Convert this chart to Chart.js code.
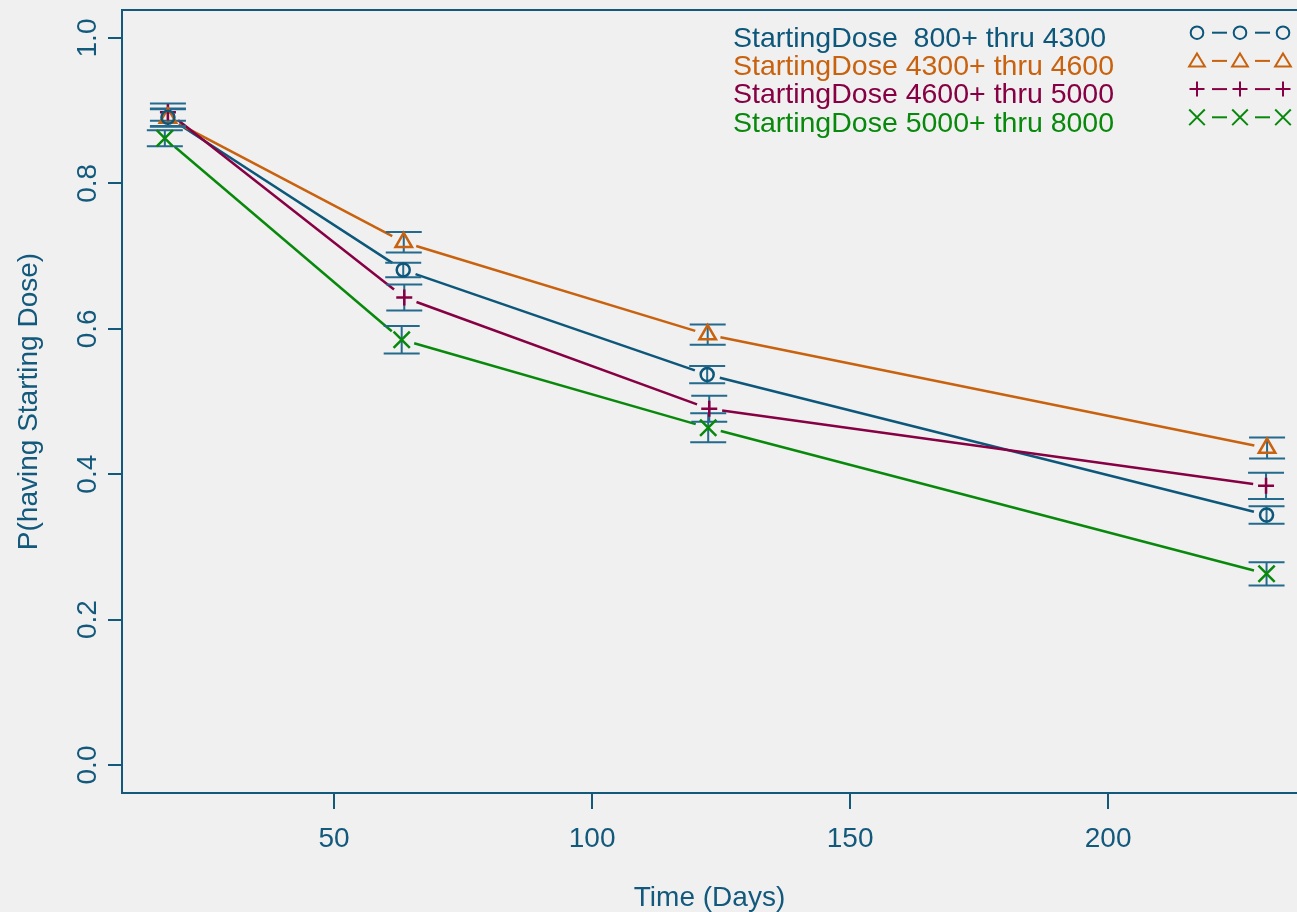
<!DOCTYPE html>
<html>
<head>
<meta charset="utf-8">
<title>P(having Starting Dose) by time</title>
<script src="https://cdn.jsdelivr.net/npm/chart.js@4.4.1/dist/chart.umd.min.js"></script>
<style>
  html, body { margin: 0; padding: 0; background: #f0f0f0; }
  #chart { display: block; background: #f0f0f0; }
</style>
</head>
<body>
<canvas id="chart" width="1297" height="912"></canvas>
<script>
// Values
const GROUP_LABELS = [
    'StartingDose  800+ thru 4300',
    'StartingDose 4300+ thru 4600',
    'StartingDose 4600+ thru 5000',
    'StartingDose 5000+ thru 8000'
];

const BLUE_DAYS = [17.8, 63.4, 122.3, 230.7];
const BLUE_P = [0.891, 0.681, 0.537, 0.344];
const BLUE_ERR = [0.012, 0.010, 0.012, 0.012];

const ORANGE_DAYS = [17.8, 63.5, 122.4, 230.8];
const ORANGE_P = [0.890, 0.719, 0.592, 0.436];
const ORANGE_ERR = [0.012, 0.014, 0.014, 0.0145];

const MAROON_DAYS = [17.8, 63.6, 122.7, 230.6];
const MAROON_P = [0.898, 0.643, 0.490, 0.384];
const MAROON_ERR = [0.012, 0.018, 0.018, 0.018];

const GREEN_DAYS = [17.2, 63.1, 122.5, 230.7];
const GREEN_P = [0.862, 0.585, 0.464, 0.263];
const GREEN_ERR = [0.011, 0.019, 0.020, 0.016];

const X_TICKS = [50, 100, 150, 200];
const Y_TICKS = [0, 0.2, 0.4, 0.6, 0.8, 1.0];

const AXIS = '#12597c';
const BAR_COLOR = '#236a8d';
const COLORS = ['#0d577a', '#c9620e', '#860043', '#08890c'];
const STYLES = ['circle', 'triangle', 'cross', 'crossRot'];
const RADII = [6.5, 9.5, 8, 11.5];
const FONT = "'Liberation Sans', Arial, sans-serif";

Chart.defaults.font.family = FONT;

function points(days, p) {
    return days.map((d, i) => ({ x: d, y: p[i] }));
}

function makeDataset(i, days, p, err) {
    return {
        label: GROUP_LABELS[i],
        data: points(days, p),
        errors: err,
        showLine: false,
        pointStyle: STYLES[i],
        pointRadius: RADII[i],
        pointHoverRadius: RADII[i],
        pointBorderWidth: 2.5,
        pointBorderColor: COLORS[i],
        pointBackgroundColor: 'rgba(0,0,0,0)',
        borderColor: COLORS[i]
    };
}

// Lines between points, with a small gap round each marker
const gappedLines = {
    id: 'gappedLines',
    beforeDatasetsDraw(chart) {
        const ctx = chart.ctx;
        const gap = 13;
        ctx.save();
        ctx.lineWidth = 2.5;
        chart.data.datasets.forEach((ds, i) => {
            const pts = chart.getDatasetMeta(i).data;
            ctx.strokeStyle = ds.borderColor;
            for (let j = 1; j < pts.length; j++) {
                const a = pts[j - 1], b = pts[j];
                const dx = b.x - a.x, dy = b.y - a.y;
                const len = Math.sqrt(dx * dx + dy * dy);
                const ux = dx / len, uy = dy / len;
                ctx.beginPath();
                ctx.moveTo(a.x + ux * gap, a.y + uy * gap);
                ctx.lineTo(b.x - ux * gap, b.y - uy * gap);
                ctx.stroke();
            }
        });
        ctx.restore();
    }
};

// Error bars with caps, all in the axis colour
const errorBars = {
    id: 'errorBars',
    beforeDatasetsDraw(chart) {
        const ctx = chart.ctx;
        const yScale = chart.scales.y;
        const cap = 18;
        ctx.save();
        ctx.strokeStyle = BAR_COLOR;
        ctx.lineWidth = 2;
        chart.data.datasets.forEach((ds, i) => {
            const pts = chart.getDatasetMeta(i).data;
            pts.forEach((pt, j) => {
                const v = ds.data[j].y;
                const lo = yScale.getPixelForValue(v - ds.errors[j]);
                const hi = yScale.getPixelForValue(v + ds.errors[j]);
                ctx.beginPath();
                ctx.moveTo(pt.x, lo);
                ctx.lineTo(pt.x, hi);
                ctx.moveTo(pt.x - cap, lo);
                ctx.lineTo(pt.x + cap, lo);
                ctx.moveTo(pt.x - cap, hi);
                ctx.lineTo(pt.x + cap, hi);
                ctx.stroke();
            });
        });
        ctx.restore();
    }
};

function drawSymbol(ctx, style, x, y, r) {
    ctx.beginPath();
    if (style === 'circle') {
        ctx.arc(x, y, r, 0, Math.PI * 2);
    } else if (style === 'triangle') {
        ctx.moveTo(x, y - r);
        ctx.lineTo(x + r * 1.05, y + r * 0.75);
        ctx.lineTo(x - r * 1.05, y + r * 0.75);
        ctx.closePath();
    } else if (style === 'cross') {
        ctx.moveTo(x - r, y); ctx.lineTo(x + r, y);
        ctx.moveTo(x, y - r); ctx.lineTo(x, y + r);
    } else {
        ctx.moveTo(x - r, y - r); ctx.lineTo(x + r, y + r);
        ctx.moveTo(x + r, y - r); ctx.lineTo(x - r, y + r);
    }
    ctx.stroke();
}

// Box, rotated y tick labels and the legend
const frameAndLegend = {
    id: 'frameAndLegend',
    afterDraw(chart) {
        const ctx = chart.ctx;
        const area = chart.chartArea;
        const yScale = chart.scales.y;
        ctx.save();

        // box (right side falls off the picture)
        ctx.strokeStyle = AXIS;
        ctx.lineWidth = 2;
        ctx.beginPath();
        ctx.moveTo(area.right + 2, area.top);
        ctx.lineTo(area.left, area.top);
        ctx.lineTo(area.left, area.bottom);
        ctx.lineTo(area.right + 2, area.bottom);
        ctx.stroke();

        // y tick labels, reading bottom to top
        ctx.fillStyle = AXIS;
        ctx.font = '28px ' + FONT;
        ctx.textAlign = 'center';
        ctx.textBaseline = 'middle';
        Y_TICKS.forEach(v => {
            const py = yScale.getPixelForValue(v);
            ctx.save();
            ctx.translate(88, py);
            ctx.rotate(-Math.PI / 2);
            ctx.fillText(v.toFixed(1), 0, 0);
            ctx.restore();
        });

        // legend
        ctx.textAlign = 'left';
        ctx.textBaseline = 'alphabetic';
        ctx.lineWidth = 2;
        ctx.font = '28.5px ' + FONT;
        GROUP_LABELS.forEach((label, i) => {
            const baseY = 46.5 + i * 28.4;
            ctx.fillStyle = COLORS[i];
            ctx.fillText(label, 733, baseY);
            const sy = 32.7 + i * 28.2;
            ctx.strokeStyle = COLORS[i];
            const symR = [6.3, 7.5, 7.5, 7.8][i];
            [1197, 1240, 1283].forEach(sx => drawSymbol(ctx, STYLES[i], sx, sy, symR));
            [[1212, 1227], [1255, 1270]].forEach(([a, b]) => {
                ctx.beginPath();
                ctx.moveTo(a, sy);
                ctx.lineTo(b, sy);
                ctx.stroke();
            });
        });
        ctx.restore();
    }
};

const ctx = document.getElementById('chart').getContext('2d');
const chart = new Chart(ctx, {
    type: 'scatter',
    data: {
        datasets: [
            makeDataset(0, BLUE_DAYS, BLUE_P, BLUE_ERR),
            makeDataset(1, ORANGE_DAYS, ORANGE_P, ORANGE_ERR),
            makeDataset(2, MAROON_DAYS, MAROON_P, MAROON_ERR),
            makeDataset(3, GREEN_DAYS, GREEN_P, GREEN_ERR)
        ]
    },
    options: {
        responsive: false,
        animation: false,
        layout: { autoPadding: false, padding: { top: 10, right: 0, bottom: 0, left: 0 } },
        plugins: {
            legend: { display: false },
            tooltip: { enabled: false }
        },
        scales: {
            x: {
                type: 'linear',
                min: 8.9,
                max: 236.6,
                afterBuildTicks: scale => { scale.ticks = X_TICKS.map(v => ({ value: v })); },
                afterFit: scale => {
                    scale.height = 119;
                    scale.paddingLeft = 0;
                    scale.paddingRight = 0;
                },
                border: { display: false },
                grid: { drawOnChartArea: false, tickLength: 16, color: AXIS, lineWidth: 2 },
                ticks: { color: AXIS, font: { size: 28 }, padding: 13, maxRotation: 0, autoSkip: false },
                title: {
                    display: true,
                    text: 'Time (Days)',
                    color: AXIS,
                    font: { size: 28 },
                    padding: { top: 0, bottom: -3 }
                }
            },
            y: {
                type: 'linear',
                min: -0.0385,
                max: 1.0385,
                afterBuildTicks: scale => { scale.ticks = Y_TICKS.map(v => ({ value: v })); },
                afterFit: scale => {
                    scale.width = 122;
                    scale.paddingTop = 0;
                    scale.paddingBottom = 0;
                },
                border: { display: false },
                grid: { drawOnChartArea: false, tickLength: 14, color: AXIS, lineWidth: 2 },
                ticks: { display: false },
                title: {
                    display: true,
                    text: 'P(having Starting Dose)',
                    color: AXIS,
                    font: { size: 28 },
                    padding: { top: 12, bottom: 0 }
                }
            }
        }
    },
    plugins: [gappedLines, errorBars, frameAndLegend]
});
</script>
</body>
</html>
